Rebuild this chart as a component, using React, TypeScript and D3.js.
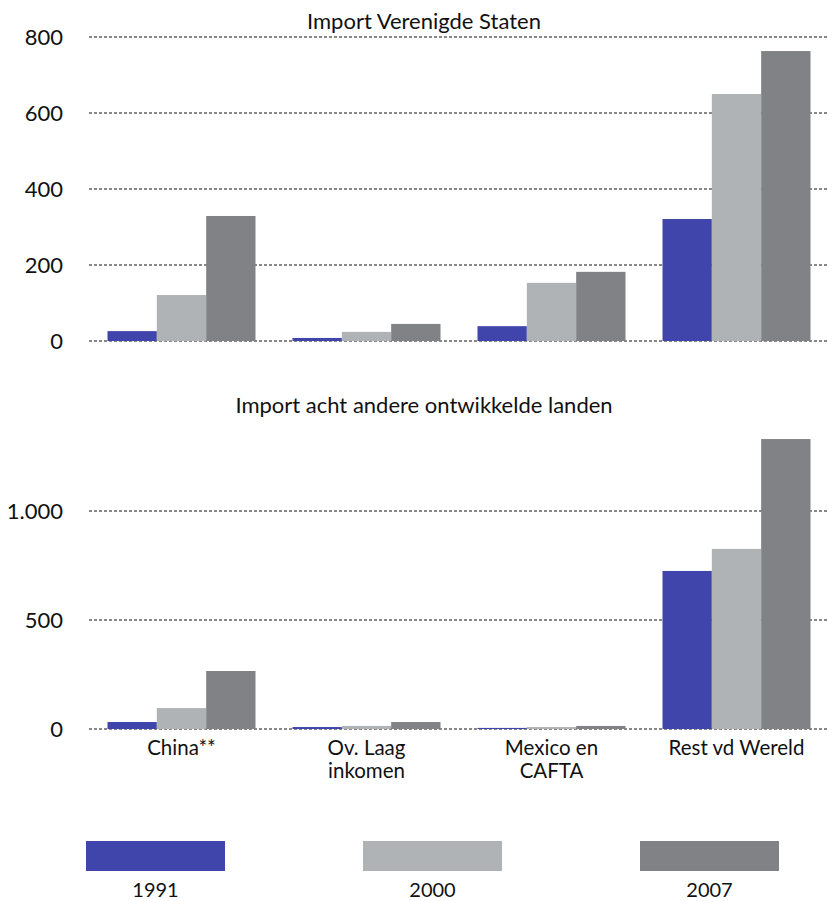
import React from "react";
import * as d3 from "d3";

const categories = ["China**", "Ov. Laag\ninkomen", "Mexico en\nCAFTA", "Rest vd Wereld"];
const seriesNames = ["1991", "2000", "2007"];
const seriesColors = ["#3f45aa", "#b0b3b6", "#818285"];

const usValues = [
  [26, 121, 329],
  [8, 24, 45],
  [39, 153, 182],
  [321, 650, 763],
];
const otherValues = [
  [32, 96, 266],
  [9, 14, 32],
  [5, 9, 14],
  [725, 826, 1330],
];
const usTicks = [0, 200, 400, 600, 800];
const otherTicks = [0, 500, 1000];
const titles = ["Import Verenigde Staten", "Import acht andere ontwikkelde landen"];

const W = 828;
const H = 901;
const FONT = "Lato, 'Open Sans', sans-serif";
const fmt = d3.formatLocale({ decimal: ",", thousands: ".", grouping: [3], currency: ["€", ""] }).format(",d");

const x0 = d3.scaleBand<string>().domain(categories).range([89, 829]).paddingInner(0.2).paddingOuter(0.1);
const x1 = d3.scaleBand<string>().domain(seriesNames).range([0, x0.bandwidth()]);

function Panel({ values, ticks, y, title, titleY, showLabels }: any) {
  const [r0] = y.range();
  return (
    <g>
      <text x={424} y={titleY} textAnchor="middle" fontSize={22} fontFamily={FONT} fill="#111">{title}</text>
      {ticks.map((t: number) => (
        <g key={t}>
          <line x1={89} x2={W} y1={y(t)} y2={y(t)} stroke="#111" strokeWidth={1} strokeDasharray="3,2" />
          <text x={63} y={y(t)} dy="0.35em" textAnchor="end" fontSize={22} fontFamily={FONT} fill="#111">{fmt(t)}</text>
        </g>
      ))}
      {categories.map((c, ci) => (
        <g key={c} transform={`translate(${x0(c)},0)`}>
          {seriesNames.map((s, si) => (
            <rect key={s} x={x1(s)} width={x1.bandwidth()} y={y(values[ci][si])} height={r0 - y(values[ci][si])} fill={seriesColors[si]} />
          ))}
          {showLabels && c.split("\n").map((line, li) => (
            <text key={li} x={x0.bandwidth() / 2} y={r0 + 26 + li * 23} textAnchor="middle" fontSize={20.5} fontFamily={FONT} fill="#111">{line}</text>
          ))}
        </g>
      ))}
    </g>
  );
}

export default function App() {
  const yTop = d3.scaleLinear().domain([0, 800]).range([341, 37]);
  const yBot = d3.scaleLinear().domain([0, 1400]).range([729, 729 - 1400 * 0.218]);
  const legendX = d3.scaleBand<string>().domain(seriesNames).range([86, 86 + 277 * 3]);
  return (
    <div style={{ position: "absolute", left: 0, top: 0 }}>
      <svg width={W} height={H} style={{ display: "block", background: "#fff" }}>
        <Panel values={usValues} ticks={usTicks} y={yTop} title={titles[0]} titleY={29} showLabels={false} />
        <Panel values={otherValues} ticks={otherTicks} y={yBot} title={titles[1]} titleY={413} showLabels={true} />
        {seriesNames.map((s, i) => (
          <g key={s} transform={`translate(${legendX(s)},0)`}>
            <rect x={0} y={841} width={139} height={30} fill={seriesColors[i]} />
            <text x={69.5} y={897} textAnchor="middle" fontSize={20} fontFamily={FONT} fill="#111">{s}</text>
          </g>
        ))}
      </svg>
    </div>
  );
}
